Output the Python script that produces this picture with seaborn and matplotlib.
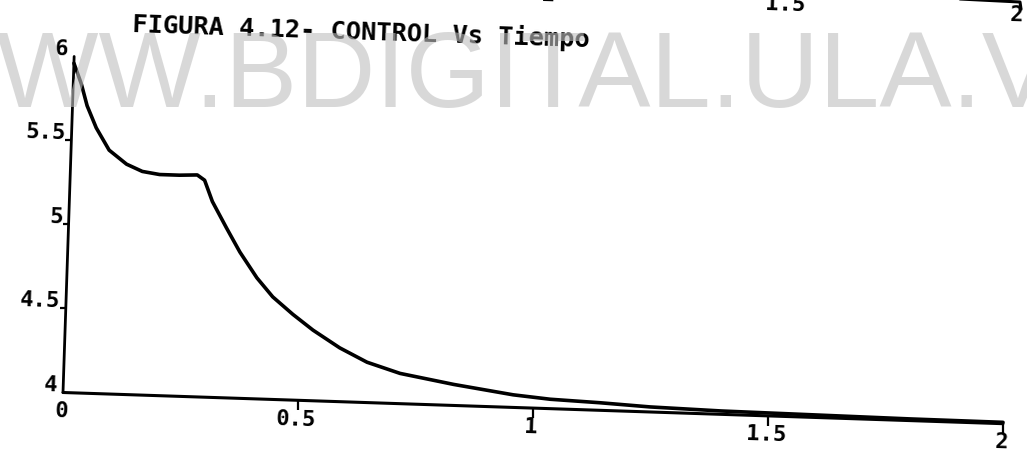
import seaborn as sns
import matplotlib.pyplot as plt
from matplotlib.transforms import Affine2D, IdentityTransform
from matplotlib.lines import Line2D

W, H = 1027, 466
TILT = -1.9  # the scanned page is turned a little clockwise

# control signal
t = [0.0, 0.017, 0.031, 0.052, 0.081, 0.119, 0.153, 0.19, 0.232, 0.27,
     0.286, 0.304, 0.336, 0.366, 0.404, 0.439, 0.483, 0.527, 0.585, 0.644,
     0.715, 0.83, 0.957, 1.036, 1.142, 1.249, 1.4, 1.6, 1.8, 2.0]
u = [5.96, 5.84, 5.71, 5.58, 5.45, 5.37, 5.33, 5.315, 5.315, 5.32,
     5.29, 5.165, 5.01, 4.87, 4.72, 4.61, 4.51, 4.42, 4.32, 4.24,
     4.18, 4.125, 4.075, 4.056, 4.045, 4.03, 4.02, 4.015, 4.01, 4.008]

xticks = [0, 0.5, 1, 1.5, 2]
xlabels = ["0", "0.5", "1", "1.5", "2"]
yticks = [4, 4.5, 5, 5.5, 6]
ylabels = ["4", "4.5", "5", "5.5", "6"]
title = "FIGURA 4.12- CONTROL Vs Tiempo"
prev_labels = ["1", "1.5", "2"]  # bottom of the figure above, cut by the page edge
watermark = "WWW.BDIGITAL.ULA.VE"

sns.set_style("white")
plt.rcParams['font.family'] = ['DejaVu Sans Mono', 'DejaVu Sans']

fig = plt.figure(figsize=(W / 100, H / 100), dpi=100)
ox, oy = 63, H - 392.5
ax = fig.add_axes([ox / W, oy / H, 940.5 / W, 336.2 / H])
ax.set_xlim(xticks[0], xticks[-1])
ax.set_ylim(yticks[0], yticks[-1])
ax.axis('off')

rot = Affine2D().rotate_deg_around(ox, oy, TILT)
turn = Affine2D().rotate_deg(TILT)
tr = ax.transData + rot

# the curve
sns.lineplot(x=t, y=u, ax=ax, color='black', linewidth=2.6, sort=False, estimator=None)

# hand drawn looking axes
ax.plot([xticks[0], xticks[-1]], [yticks[0]] * 2, color='black', lw=2.2)
ax.plot([xticks[0]] * 2, [yticks[0], yticks[-1]], color='black', lw=2.0)
ax.plot(xticks[1:], [yticks[0]] * 4, ls='none', marker=3, ms=7, mew=1.6, color='black')
ax.plot([xticks[0]] * 3, yticks[1:4], ls='none', marker=0, ms=4, mew=1.6, color='black')

for ln in ax.lines:
    ln.set_transform(tr)
    ln.set_clip_on(False)

lab = dict(transform=IdentityTransform(), rotation=TILT, rotation_mode='anchor',
           fontsize=16, fontweight='bold', color='black')

for v, s in zip(xticks, xlabels):
    p = tr.transform((v, yticks[0])) + turn.transform((-1, -19))
    fig.text(p[0], p[1], s, ha='center', va='center', **lab)

for v, s in zip(yticks, ylabels):
    p = tr.transform((xticks[0], v)) + turn.transform((-6, 7))
    fig.text(p[0], p[1], s, ha='right', va='center', **lab)

# title
fig.text(132, H - 25, title, ha='left', va='center',
         **{**lab, 'fontsize': 18.3})

# leftovers of the previous figure at the top edge
for s, (px, py) in zip(prev_labels, [(548, 5), (785, 15), (1016, 25)]):
    fig.text(px, H - py, s, ha='center', va='bottom', **lab)
fig.add_artist(Line2D([960, 1020, 1021], [H + 1, H - 2, H - 9], color='black', lw=2.2,
                      transform=IdentityTransform()))

# site watermark laid over the page
fig.text(-105, H - 107, watermark, transform=IdentityTransform(), ha='left', va='baseline',
         fontsize=78, family='Liberation Sans', color='0.75', alpha=0.6, zorder=10)

fig.savefig('out.png', dpi=100)
